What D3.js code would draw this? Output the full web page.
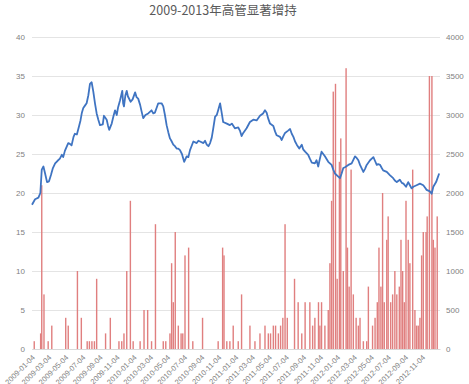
<!DOCTYPE html>
<html>
<head>
<meta charset="utf-8">
<script src="https://cdnjs.cloudflare.com/ajax/libs/d3/7.8.5/d3.min.js"></script>
<style>
  body { margin: 0; background: #fff; }
  svg { font-family: "Noto Sans CJK SC", "Noto Sans", sans-serif; }
  .tick text { fill: #7f7f7f; font-size: 8px; }
</style>
</head>
<body>
<svg id="chart" width="469" height="384"></svg>
<script>
// ---------- data
// line: index (right axis, 0-4000)
var lineDates = ["2009-01-04","2009-01-15","2009-01-27","2009-02-03","2009-02-08","2009-02-14","2009-02-20","2009-02-27","2009-03-06","2009-03-13","2009-03-20","2009-03-28","2009-04-05","2009-04-14","2009-04-21","2009-04-26","2009-05-02","2009-05-14","2009-05-20","2009-05-26","2009-06-02","2009-06-07","2009-06-14","2009-06-22","2009-06-27","2009-07-02","2009-07-07","2009-07-13","2009-07-19","2009-07-25","2009-07-31","2009-08-06","2009-08-12","2009-08-18","2009-08-24","2009-08-30","2009-09-05","2009-09-15","2009-09-19","2009-09-29","2009-10-04","2009-10-08","2009-10-17","2009-10-23","2009-10-29","2009-11-04","2009-11-09","2009-11-16","2009-11-24","2009-11-27","2009-11-30","2009-12-05","2009-12-10","2009-12-14","2009-12-24","2009-12-31",
"2010-01-09","2010-01-14","2010-01-20","2010-01-27","2010-02-01","2010-02-07","2010-02-15","2010-02-25","2010-03-09","2010-03-15","2010-03-21","2010-03-27","2010-04-02","2010-04-14","2010-04-20","2010-04-26","2010-05-02","2010-05-08","2010-05-14","2010-05-19","2010-05-26","2010-06-01","2010-06-07","2010-06-13","2010-06-19","2010-06-26","2010-07-04","2010-07-13","2010-07-19","2010-07-25","2010-08-06","2010-08-18","2010-08-24","2010-08-30","2010-09-11","2010-09-17","2010-09-23","2010-09-29","2010-10-05","2010-10-11","2010-10-16","2010-10-23","2010-10-29","2010-11-03","2010-11-10","2010-11-16","2010-11-21","2010-12-04","2010-12-15","2010-12-22",
"2011-01-02","2011-01-14","2011-01-20","2011-01-26","2011-02-01","2011-02-13","2011-02-25","2011-03-09","2011-03-21","2011-04-02","2011-04-13","2011-04-20","2011-04-26","2011-05-02","2011-05-08","2011-05-20","2011-05-26","2011-06-01","2011-06-13","2011-06-19","2011-06-25","2011-07-01","2011-07-12","2011-07-19","2011-07-25","2011-07-31","2011-08-06","2011-08-12","2011-08-21","2011-08-30","2011-09-04","2011-09-11","2011-09-22","2011-09-28","2011-10-05","2011-10-16","2011-10-22","2011-10-28","2011-11-03","2011-11-09","2011-11-15","2011-11-21","2011-12-03","2011-12-15","2011-12-21","2011-12-27",
"2012-01-08","2012-01-14","2012-01-20","2012-01-26","2012-02-01","2012-02-13","2012-02-25","2012-03-08","2012-03-14","2012-03-20","2012-03-26","2012-04-07","2012-04-13","2012-04-19","2012-05-01","2012-05-13","2012-05-19","2012-05-25","2012-05-30","2012-06-06","2012-06-12","2012-06-17","2012-06-30","2012-07-11","2012-07-23","2012-07-29","2012-08-05","2012-08-16","2012-08-23","2012-08-29","2012-09-07","2012-09-15","2012-09-21","2012-09-27","2012-10-03","2012-10-15","2012-10-27","2012-11-08","2012-11-14","2012-11-20","2012-12-02","2012-12-08","2012-12-14","2012-12-24","2013-01-04"];
var lineValues = [1850,1920,1940,2000,2300,2340,2250,2140,2150,2230,2320,2380,2410,2440,2490,2460,2540,2640,2630,2610,2720,2760,2750,2860,2930,3030,3090,3120,3150,3250,3400,3420,3300,3150,3020,2940,2870,2880,2990,2940,2860,2810,2890,2980,3060,3000,3100,3190,3310,3150,3110,3250,3310,3240,3170,3200,
3290,3230,3210,3130,3050,2960,3000,3020,3060,3020,3030,3090,3150,3150,3110,3000,2870,2780,2700,2670,2620,2600,2570,2570,2550,2500,2400,2470,2460,2550,2660,2640,2670,2660,2640,2670,2620,2600,2640,2710,2820,2980,3000,3060,3150,3020,2910,2890,2870,2890,
2830,2840,2800,2730,2770,2830,2910,2940,2930,2990,3020,3060,3030,2950,2890,2860,2790,2740,2720,2680,2730,2770,2800,2820,2760,2720,2660,2620,2570,2620,2560,2530,2490,2440,2390,2380,2420,2340,2440,2530,2500,2470,2400,2360,2300,2250,
2210,2190,2250,2320,2330,2360,2380,2470,2450,2420,2360,2270,2310,2360,2420,2460,2410,2360,2370,2360,2320,2290,2270,2230,2190,2160,2140,2170,2130,2120,2080,2140,2100,2060,2080,2100,2120,2100,2070,2040,2020,1990,2080,2140,2250];

// bars: number of insider buys (left axis, 0-40)
var barDates = ["2009-01-12","2009-02-04","2009-02-08","2009-02-16","2009-03-03","2009-03-16","2009-05-05","2009-05-14","2009-06-16","2009-06-30","2009-07-21","2009-07-29","2009-08-07","2009-08-16","2009-08-24","2009-09-25","2009-10-12","2009-11-12","2009-11-22","2009-11-30","2009-12-10","2009-12-23",
"2010-01-02","2010-01-27","2010-02-10","2010-02-23","2010-03-09","2010-03-23","2010-04-20","2010-04-29","2010-05-14","2010-05-20","2010-05-26","2010-06-02","2010-06-13","2010-06-23","2010-06-29","2010-07-07","2010-07-20","2010-08-04","2010-09-08","2010-11-03","2010-11-19","2010-11-24","2010-12-04","2010-12-15","2010-12-27",
"2011-01-14","2011-01-26","2011-02-25","2011-03-15","2011-04-02","2011-04-20","2011-05-02","2011-05-10","2011-05-20","2011-05-28","2011-06-07","2011-06-15","2011-06-23","2011-07-01","2011-07-09","2011-08-04","2011-08-17","2011-08-30","2011-09-11","2011-09-28","2011-10-08","2011-10-16","2011-10-29","2011-11-03","2011-11-09","2011-11-21","2011-12-03","2011-12-09","2011-12-15","2011-12-21","2011-12-29",
"2012-01-04","2012-01-12","2012-01-17","2012-01-26","2012-02-05","2012-02-10","2012-02-16","2012-02-23","2012-03-02","2012-03-12","2012-03-20","2012-03-26","2012-04-07","2012-04-19","2012-04-25","2012-05-10","2012-05-19","2012-05-27","2012-06-02","2012-06-09","2012-06-15","2012-06-21","2012-06-30","2012-07-05","2012-07-14","2012-07-21","2012-07-29","2012-08-05","2012-08-14","2012-08-20","2012-08-26","2012-09-01","2012-09-07","2012-09-15","2012-09-21","2012-10-01","2012-10-09","2012-10-15","2012-10-21","2012-10-27","2012-11-02","2012-11-08","2012-11-18","2012-11-22","2012-11-30","2012-12-09","2012-12-14","2012-12-20","2012-12-28"];
var barValues = [1,2,21,7,1,3,4,3,10,4,1,1,1,1,9,2,4,1,1,2,10,19,
1,1,5,5,1,16,1,1,2,11,6,15,3,2,2,12,13,1,4,1,13,12,1,1,3,
1,7,3,1,2,3,2,2,3,3,2,3,4,16,4,9,6,2,6,6,3,4,6,3,6,3,5,11,19,33,34,
9,24,27,10,36,13,8,23,7,4,3,4,1,1,8,3,4,6,13,8,20,6,14,17,6,7,10,7,8,14,10,6,19,14,11,23,5,3,3,4,12,15,15,17,35,35,14,13,17];

var leftTicks = [0,5,10,15,20,25,30,35,40];
var rightTicks = [0,500,1000,1500,2000,2500,3000,3500,4000];
var xTickLabels = ["2009-01-04","2009-03-04","2009-05-04","2009-07-04","2009-09-04","2009-11-04",
  "2010-01-04","2010-03-04","2010-05-04","2010-07-04","2010-09-04","2010-11-04",
  "2011-01-04","2011-03-04","2011-05-04","2011-07-04","2011-09-04","2011-11-04",
  "2012-01-04","2012-03-04","2012-05-04","2012-07-04","2012-09-04","2012-11-04"];

// ---------- layout
var plotLeft = 32, plotRight = 440, plotTop = 37, plotBottom = 349;
var parse = d3.utcParse("%Y-%m-%d");
var fmt = d3.utcFormat("%Y-%m-%d");

var svg = d3.select("#chart");

var x = d3.scaleUtc()
    .domain([parse("2009-01-04"), parse("2013-01-07")])
    .range([plotLeft, plotRight]);
var yL = d3.scaleLinear().domain([0, 40]).range([plotBottom, plotTop]);
var yR = d3.scaleLinear().domain([0, 4000]).range([plotBottom, plotTop]);

// title
svg.append("text")
    .attr("x", 223).attr("y", 15)
    .attr("text-anchor", "middle")
    .attr("fill", "#595959")
    .style("font-size", "12.5px")
    .text("2009-2013年高管显著增持");

// left axis + grid
var gl = svg.append("g")
    .attr("transform", "translate(" + plotLeft + ",0)")
    .call(d3.axisLeft(yL).tickValues(leftTicks).tickSize(-(plotRight - plotLeft)).tickPadding(7));
gl.select(".domain").remove();
gl.selectAll(".tick line").attr("stroke", "#e4e4e4");

// right axis
var gr = svg.append("g")
    .attr("transform", "translate(" + plotRight + ",0)")
    .call(d3.axisRight(yR).tickValues(rightTicks).tickFormat(d3.format("d")).tickSize(0).tickPadding(6));
gr.select(".domain").remove();

// x axis
var gx = svg.append("g")
    .attr("transform", "translate(0," + plotBottom + ")")
    .call(d3.axisBottom(x).tickValues(xTickLabels.map(parse)).tickFormat(fmt).tickSize(0));
gx.select(".domain").attr("stroke", "#d9d9d9");
gx.selectAll(".tick text")
    .attr("text-anchor", "end")
    .attr("dy", 0).attr("y", 0)
    .attr("transform", "translate(3,9) rotate(-45)")
    .style("font-size", "7.5px");

// bars
svg.append("g").selectAll("rect")
    .data(barDates.map(function(d, i) { return {date: parse(d), v: barValues[i]}; }))
    .enter().append("rect")
    .attr("x", function(d) { return x(d.date) - 0.7; })
    .attr("width", 1.4)
    .attr("y", function(d) { return yL(d.v); })
    .attr("height", function(d) { return plotBottom - yL(d.v); })
    .attr("fill", "#e07f7f");

// line
var line = d3.line()
    .x(function(d) { return x(d.date); })
    .y(function(d) { return yR(d.v); });
svg.append("path")
    .datum(lineDates.map(function(d, i) { return {date: parse(d), v: lineValues[i]}; }))
    .attr("d", line)
    .attr("fill", "none")
    .attr("stroke", "#3f74c2")
    .attr("stroke-width", 1.8)
    .attr("stroke-linejoin", "round");
</script>
</body>
</html>
